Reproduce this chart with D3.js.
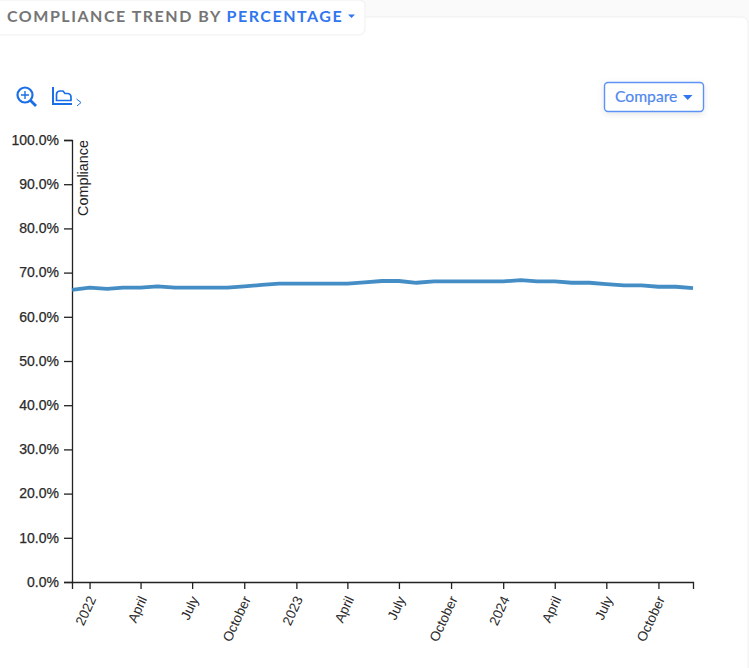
<!DOCTYPE html>
<html>
<head>
<meta charset="utf-8">
<script src="https://cdn.jsdelivr.net/npm/d3@7/dist/d3.min.js"></script>
<style>
html,body{margin:0;padding:0;background:#fafafa;overflow:hidden}
svg{display:block}
</style>
</head>
<body>
<svg id="chart" width="749" height="668"></svg>
<script>
// Monthly compliance percentage
const months = d3.timeMonth.range(new Date(2021, 11, 1), new Date(2024, 11, 2));
const compliance = [
  66.1, 66.6, 66.3, 66.6, 66.6, 66.9, 66.6, 66.6, 66.6, 66.6, 66.9, 67.2, 67.5,
  67.5, 67.5, 67.5, 67.5, 67.8, 68.1, 68.1, 67.7, 68.0, 68.0, 68.0, 68.0,
  68.0, 68.3, 68.0, 68.0, 67.7, 67.7, 67.4, 67.1, 67.1, 66.8, 66.8, 66.5
];
const percentTicks = [0, 10, 20, 30, 40, 50, 60, 70, 80, 90, 100];
const timeTicks = [
  new Date(2022, 0, 1), new Date(2022, 3, 1), new Date(2022, 6, 1), new Date(2022, 9, 1),
  new Date(2023, 0, 1), new Date(2023, 3, 1), new Date(2023, 6, 1), new Date(2023, 9, 1),
  new Date(2024, 0, 1), new Date(2024, 3, 1), new Date(2024, 6, 1), new Date(2024, 9, 1)
];
const timeLabels = ["2022", "April", "July", "October", "2023", "April", "July", "October", "2024", "April", "July", "October"];

const svg = d3.select("#chart");
const BLUE = "#2f76f0";
const UI_FONT = "Lato,'Open Sans',sans-serif";
const AXIS_FONT = "'Liberation Sans',Arial,sans-serif";
const defs = svg.append("defs");
const soft = defs.append("filter").attr("id", "soft").attr("x", "-20%").attr("y", "-40%").attr("width", "140%").attr("height", "200%");
soft.append("feDropShadow").attr("dx", 0).attr("dy", 2).attr("stdDeviation", 3).attr("flood-color", "#000").attr("flood-opacity", 0.1);

// Card and title tab
svg.append("rect").attr("x", -10).attr("y", 17).attr("width", 758).attr("height", 680).attr("rx", 6)
  .attr("fill", "#fff").attr("stroke", "#efefef");
svg.append("rect").attr("x", -8).attr("y", 0).attr("width", 373).attr("height", 35).attr("rx", 6)
  .attr("fill", "#fff").attr("stroke", "#efefef");

const title = svg.append("text").attr("x", 7).attr("y", 21.5)
  .attr("font-family", UI_FONT).attr("font-size", 16).attr("font-weight", 700).attr("letter-spacing", 1.52);
title.append("tspan").attr("fill", "#757575").text("COMPLIANCE TREND BY ");
title.append("tspan").attr("fill", BLUE).text("PERCENTAGE");
svg.append("path").attr("d", d3.line()([[348, 14.5], [355, 14.5], [351.5, 18]])).attr("fill", BLUE);

// Zoom icon
const zoomIcon = svg.append("g").attr("fill", "none").attr("stroke", "#1a6fe8");
zoomIcon.append("circle").attr("cx", 25).attr("cy", 95).attr("r", 7.5).attr("stroke-width", 2.2);
zoomIcon.append("path").attr("d", "M25 91V99M21 95H29").attr("stroke-width", 1.4);
zoomIcon.append("path").attr("d", "M30.5 100.5L36 106").attr("stroke-width", 2.8);

// Area-chart icon
const areaIcon = svg.append("g").attr("fill", "none").attr("stroke", "#1a6fe8");
areaIcon.append("path").attr("d", "M53 87V104H72").attr("stroke-width", 2);
areaIcon.append("path").attr("d", "M56.5 100.5V94Q57 91 60 91H63L65 93.5H68Q71 94 71 97V100.5Z").attr("stroke-width", 1.7);
areaIcon.append("path").attr("d", "M76.5 99L81 102.5L77 106").attr("stroke-width", 1);

// Compare button
svg.append("rect").attr("x", 604.5).attr("y", 82.5).attr("width", 99).attr("height", 29).attr("rx", 3.5)
  .attr("fill", "#fff").attr("stroke", "#5b92f3").attr("stroke-width", 1.4).attr("filter", "url(#soft)");
svg.append("text").attr("x", 615).attr("y", 101.5).attr("font-family", UI_FONT).attr("font-size", 15.7)
  .attr("fill", "#4f87ef").attr("stroke", "#4f87ef").attr("stroke-width", 0.2).text("Compare");
svg.append("path").attr("d", d3.line()([[683, 95], [692.5, 95], [687.7, 100]])).attr("fill", BLUE);

// Scales
const x = d3.scaleTime().domain([months[0], months[months.length - 1]]).range([72, 693]);
const y = d3.scaleLinear().domain([0, 100]).range([582, 140]);

// Axes
const yAxis = svg.append("g").attr("transform", "translate(72,0)")
  .call(d3.axisLeft(y).tickValues(percentTicks).tickSize(8).tickPadding(5).tickFormat(d => d.toFixed(1) + "%"));
const xAxis = svg.append("g").attr("transform", "translate(0,582)")
  .call(d3.axisBottom(x).tickValues(timeTicks).tickSizeInner(7).tickSizeOuter(7).tickFormat((d, i) => timeLabels[i]));
[yAxis, xAxis].forEach(a => {
  a.selectAll("path,line").attr("stroke", "#222").attr("stroke-width", 1.3);
});
yAxis.selectAll("text")
  .attr("font-family", AXIS_FONT).attr("font-size", 14).attr("dy", "0.3em")
  .attr("fill", "#2a2a2a").attr("stroke", "#2a2a2a").attr("stroke-width", 0.25);
xAxis.selectAll("text")
  .attr("font-family", AXIS_FONT).attr("font-size", 13.6).attr("fill", "#2a2a2a")
  .attr("text-anchor", "end").attr("x", 0).attr("y", 0).attr("dy", "0.35em")
  .attr("transform", "translate(2,15) rotate(-65)");

// Y axis title
svg.append("text").attr("transform", "translate(88,140) rotate(-90)")
  .attr("text-anchor", "end").attr("font-family", AXIS_FONT).attr("font-size", 14.4)
  .attr("fill", "#222").text("Compliance");

// Trend line
const line = d3.line().x((d, i) => x(months[i])).y(d => y(d));
svg.append("path").datum(compliance).attr("d", line)
  .attr("fill", "none").attr("stroke", "#3484c0").attr("stroke-opacity", 0.92).attr("stroke-width", 3.8).attr("stroke-linejoin", "round");
</script>
</body>
</html>
